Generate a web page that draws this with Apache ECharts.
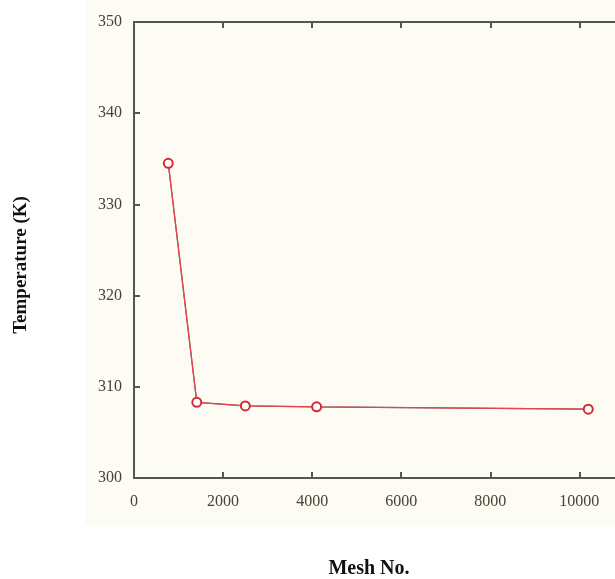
<!DOCTYPE html>
<html>
<head>
<meta charset="utf-8">
<script src="https://cdn.jsdelivr.net/npm/echarts@6/dist/echarts.min.js"></script>
<style>
  html, body { margin: 0; padding: 0; background: #ffffff; }
  #chart { width: 615px; height: 579px; }
</style>
</head>
<body>
<div id="chart"></div>
<script>
// Mesh independence study: outlet temperature vs number of mesh cells
const meshCounts = [770, 1410, 2500, 4100, 10200];
const temperatures = [334.5, 308.3, 307.9, 307.8, 307.55];
const xTicks = [0, 2000, 4000, 6000, 8000, 10000];
const yTicks = [300, 310, 320, 330, 340, 350];

const points = meshCounts.map((m, i) => [m, temperatures[i]]);

const chart = echarts.init(document.getElementById('chart'));
const serif = 'Liberation Serif, "DejaVu Serif", serif';
const axisColor = '#555555';
const labelColor = '#4a4234';

chart.setOption({
  animation: false,
  backgroundColor: '#ffffff',
  graphic: [
    { type: 'rect', z: -10, shape: { x: 85, y: 0, width: 530, height: 525 }, style: { fill: '#fcfcf4' } },
    { type: 'text', x: 21, y: 265, rotation: Math.PI / 2,
      style: { text: 'Temperature (K)', font: 'bold 19px ' + serif, fill: '#111', align: 'center', verticalAlign: 'middle' } },
    { type: 'text', x: 369, y: 569,
      style: { text: 'Mesh No.', font: 'bold 20px ' + serif, fill: '#111', align: 'center', verticalAlign: 'middle' } }
  ],
  grid: { left: 134, top: 22, right: 0, bottom: 101 },
  xAxis: [
    {
      type: 'value', min: xTicks[0], max: 10800, interval: 2000, position: 'bottom',
      axisLine: { show: true, lineStyle: { color: axisColor, width: 2 } },
      axisTick: { show: true, inside: true, length: 6, customValues: xTicks, lineStyle: { color: axisColor, width: 2 } },
      axisLabel: { margin: 16, fontFamily: serif, fontSize: 16, color: labelColor, customValues: xTicks,
        formatter: v => String(v) },
      splitLine: { show: false }
    },
    {
      type: 'value', min: xTicks[0], max: 10800, interval: 2000, position: 'top',
      axisLine: { show: true, lineStyle: { color: axisColor, width: 2 } },
      axisTick: { show: true, inside: true, length: 6, customValues: xTicks, lineStyle: { color: axisColor, width: 2 } },
      axisLabel: { show: false },
      splitLine: { show: false }
    }
  ],
  yAxis: {
    type: 'value', min: yTicks[0], max: yTicks[yTicks.length - 1], interval: 10,
    axisLine: { show: true, lineStyle: { color: axisColor, width: 2 } },
    axisTick: { show: true, inside: true, length: 6, lineStyle: { color: axisColor, width: 2 } },
    axisLabel: { margin: 12, fontFamily: serif, fontSize: 16, color: labelColor },
    splitLine: { show: false }
  },
  series: [
    {
      type: 'line', data: points, xAxisIndex: 0,
      symbol: 'none', lineStyle: { color: '#5a6a6a', width: 1.2 }, z: 2
    },
    {
      type: 'line', data: points, xAxisIndex: 0,
      symbol: 'emptyCircle', symbolSize: 9,
      itemStyle: { color: '#d42a34', borderColor: '#d42a34', borderWidth: 1.6 },
      lineStyle: { color: '#e8434a', width: 1.3 }, z: 3
    }
  ]
});
</script>
</body>
</html>
